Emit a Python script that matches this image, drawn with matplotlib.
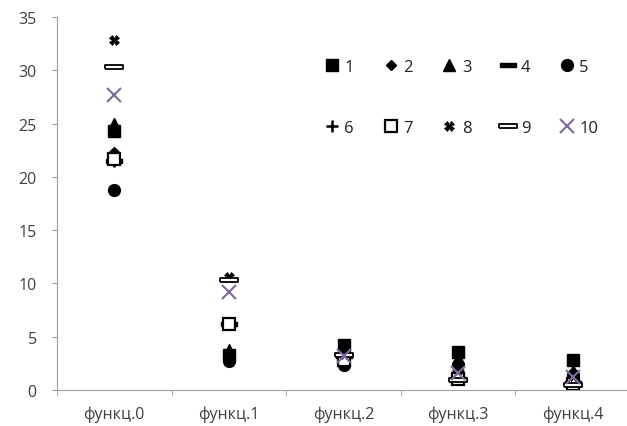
import matplotlib.pyplot as plt
import numpy as np

# категории и значения серий 1..10
categories = ['функц.0', 'функц.1', 'функц.2', 'функц.3', 'функц.4']
series_names = ['1', '2', '3', '4', '5', '6', '7', '8', '9', '10']
s1 = [24.3, 3.3, 4.2, 3.6, 2.8]
s2 = [22.3, 3.5, 3.5, 2.6, 1.5]
s3 = [25.0, 3.8, 3.8, 3.0, 1.8]
s4 = [21.5, 6.2, 3.2, 1.0, 0.7]
s5 = [18.8, 2.7, 2.3, 2.3, 1.4]
s6 = [21.5, 6.2, 3.0, 1.8, 1.2]
s7 = [21.7, 6.2, 2.8, 1.0, 0.6]
s8 = [32.8, 10.6, 3.4, 1.9, 1.3]
s9 = [30.3, 10.3, 3.3, 0.9, 0.5]
s10 = [27.7, 9.2, 3.2, 1.6, 1.2]
all_series = [s1, s2, s3, s4, s5, s6, s7, s8, s9, s10]

plt.rcParams['font.family'] = ['Open Sans', 'DejaVu Sans']

dash = [(-1, -0.28), (1, -0.28), (1, 0.28), (-1, 0.28), (-1, -0.28)]
bar = [(-1, -0.22), (1, -0.22), (1, 0.22), (-1, 0.22), (-1, -0.22)]

styles = [
    dict(marker='s', ms=8, mfc='black', mec='black'),
    dict(marker='D', ms=5.5, mfc='black', mec='black'),
    dict(marker='^', ms=8, mfc='black', mec='black'),
    dict(marker=dash, ms=11, mfc='black', mec='black'),
    dict(marker='o', ms=8.5, mfc='black', mec='black'),
    dict(marker='+', ms=9, mew=1.8, mec='black'),
    dict(marker='s', ms=8, mfc='white', mec='black', mew=1.6),
    dict(marker='X', ms=6.5, mfc='black', mec='black', mew=0.5),
    dict(marker=bar, ms=13, mfc='white', mec='black', mew=1.3),
    dict(marker='x', ms=9.5, mec='#7E6B9E', mew=1.5),
]

fig = plt.figure(figsize=(6.27, 4.27), dpi=100)
ax = fig.add_axes([57 / 627, 36 / 427, 573 / 627, 373 / 427])

x = np.arange(len(categories))
handles = []
for name, vals, st in zip(series_names, all_series, styles):
    h, = ax.plot(x, vals, linestyle='none', label=name, **st)
    handles.append(h)

ax.set_xlim(-0.5, 4.5)
ax.set_ylim(0, 35)
ax.set_yticks(range(0, 36, 5))
ax.set_xticks(x)
ax.set_xticklabels(categories)
ax.set_xticks(np.arange(-0.5, 4.6, 1), minor=True)
ax.tick_params(axis='x', which='major', length=0, pad=11)
ax.tick_params(axis='x', which='minor', length=4, color='#A0A0A0', direction='out')
ax.tick_params(axis='y', length=3.5, color='#A0A0A0', direction='out', pad=11)
ax.tick_params(labelsize=11.5, labelcolor='#404040')

for side in ['top', 'right']:
    ax.spines[side].set_visible(False)
for side in ['left', 'bottom']:
    ax.spines[side].set_color('#A0A0A0')

# легенда по строкам: 1..5 сверху, 6..10 снизу
order = [0, 5, 1, 6, 2, 7, 3, 8, 4, 9]
leg = ax.legend([handles[i] for i in order], [series_names[i] for i in order],
                ncol=5, frameon=False, loc='upper left',
                bbox_to_anchor=(0.455, 0.905), fontsize=12,
                handlelength=0.9, handletextpad=0.3, columnspacing=1.75,
                labelspacing=2.7, borderaxespad=0)
for t in leg.get_texts():
    t.set_color('#202020')

plt.savefig('out.png', dpi=100)
